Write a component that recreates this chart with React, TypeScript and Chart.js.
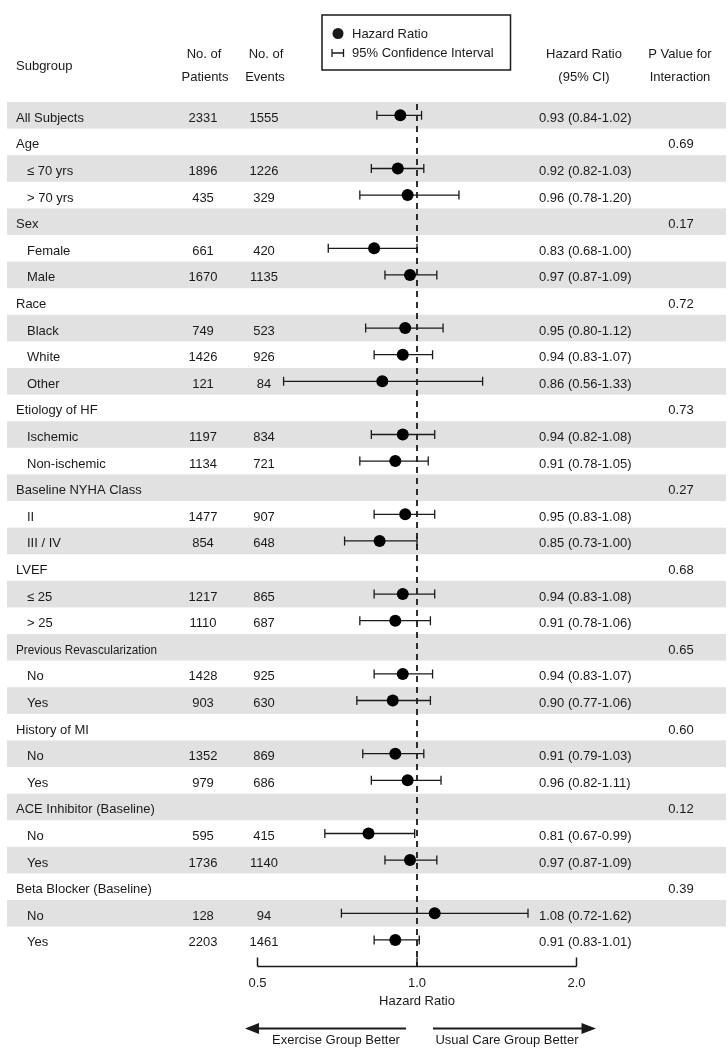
import { useEffect, useRef } from 'react';
import { Chart, registerables } from 'chart.js';

Chart.register(...registerables);

const FONT = '"Liberation Sans", Arial, Helvetica, sans-serif';
const TEXT = '#1a1a1a';
const BAND = '#e1e1e1';

// ---- Data ----
const subgroups = [
  'All Subjects', 'Age', '≤ 70 yrs', '> 70 yrs', 'Sex', 'Female', 'Male',
  'Race', 'Black', 'White', 'Other', 'Etiology of HF', 'Ischemic', 'Non-ischemic',
  'Baseline NYHA Class', 'II', 'III / IV', 'LVEF', '≤ 25', '> 25',
  'Previous Revascularization', 'No', 'Yes', 'History of MI', 'No', 'Yes',
  'ACE Inhibitor (Baseline)', 'No', 'Yes', 'Beta Blocker (Baseline)', 'No', 'Yes',
];
const isGroupHeader = [
  true, true, false, false, true, false, false,
  true, false, false, false, true, false, false,
  true, false, false, true, false, false,
  true, false, false, true, false, false,
  true, false, false, true, false, false,
];
const condensedLabels = ['Previous Revascularization'];
const patients = [
  2331, null, 1896, 435, null, 661, 1670,
  null, 749, 1426, 121, null, 1197, 1134,
  null, 1477, 854, null, 1217, 1110,
  null, 1428, 903, null, 1352, 979,
  null, 595, 1736, null, 128, 2203,
];
const events = [
  1555, null, 1226, 329, null, 420, 1135,
  null, 523, 926, 84, null, 834, 721,
  null, 907, 648, null, 865, 687,
  null, 925, 630, null, 869, 686,
  null, 415, 1140, null, 94, 1461,
];
const hazardRatio = [
  0.93, null, 0.92, 0.96, null, 0.83, 0.97,
  null, 0.95, 0.94, 0.86, null, 0.94, 0.91,
  null, 0.95, 0.85, null, 0.94, 0.91,
  null, 0.94, 0.90, null, 0.91, 0.96,
  null, 0.81, 0.97, null, 1.08, 0.91,
];
const ciLower = [
  0.84, null, 0.82, 0.78, null, 0.68, 0.87,
  null, 0.80, 0.83, 0.56, null, 0.82, 0.78,
  null, 0.83, 0.73, null, 0.83, 0.78,
  null, 0.83, 0.77, null, 0.79, 0.82,
  null, 0.67, 0.87, null, 0.72, 0.83,
];
const ciUpper = [
  1.02, null, 1.03, 1.20, null, 1.00, 1.09,
  null, 1.12, 1.07, 1.33, null, 1.08, 1.05,
  null, 1.08, 1.00, null, 1.08, 1.06,
  null, 1.07, 1.06, null, 1.03, 1.11,
  null, 0.99, 1.09, null, 1.62, 1.01,
];
const pInteraction = [
  '', '0.69', '', '', '0.17', '', '',
  '0.72', '', '', '', '0.73', '', '',
  '0.27', '', '', '0.68', '', '',
  '0.65', '', '', '0.60', '', '',
  '0.12', '', '', '0.39', '', '',
];
const axisTicks = [0.5, 1.0, 2.0];
const axisTickLabels = ['0.5', '1.0', '2.0'];

const forestPlugin = {
  id: 'forest',
  beforeDraw(chart: any) {
    const ctx = chart.ctx;
    const y = chart.scales.y;
    ctx.save();
    ctx.fillStyle = BAND;
    subgroups.forEach((_, i) => {
      if (i % 2 !== 0) return;
      const top = y.getPixelForValue(i - 0.5);
      const bot = y.getPixelForValue(i + 0.5);
      ctx.fillRect(7, top, 719, bot - top);
    });
    ctx.restore();
  },
  beforeDatasetsDraw(chart: any) {
    const ctx = chart.ctx;
    const x = chart.scales.x;
    const y = chart.scales.y;
    const area = chart.chartArea;
    ctx.save();
    // reference line at 1.0
    ctx.strokeStyle = TEXT;
    ctx.lineWidth = 1.8;
    ctx.setLineDash([6, 5]);
    ctx.beginPath();
    ctx.moveTo(x.getPixelForValue(1), area.top + 2);
    ctx.lineTo(x.getPixelForValue(1), area.bottom);
    ctx.stroke();
    ctx.setLineDash([]);
    // CI bars
    ctx.lineWidth = 1.3;
    hazardRatio.forEach((hr, i) => {
      if (hr == null) return;
      const lo = x.getPixelForValue(ciLower[i]);
      const hi = x.getPixelForValue(ciUpper[i]);
      const yy = y.getPixelForValue(i);
      ctx.beginPath();
      ctx.moveTo(lo, yy);
      ctx.lineTo(hi, yy);
      ctx.moveTo(lo, yy - 4.5);
      ctx.lineTo(lo, yy + 4.5);
      ctx.moveTo(hi, yy - 4.5);
      ctx.lineTo(hi, yy + 4.5);
      ctx.stroke();
    });
    ctx.restore();
  },
  afterDraw(chart: any) {
    const ctx = chart.ctx;
    const x = chart.scales.x;
    const y = chart.scales.y;
    const area = chart.chartArea;
    ctx.save();
    ctx.fillStyle = TEXT;
    ctx.strokeStyle = TEXT;
    ctx.font = `13px ${FONT}`;
    ctx.textBaseline = 'alphabetic';

    // headers
    ctx.textAlign = 'left';
    ctx.fillText('Subgroup', 16, 70);
    ctx.textAlign = 'center';
    ctx.fillText('No. of', 204, 58);
    ctx.fillText('Patients', 205, 81);
    ctx.fillText('No. of', 266, 58);
    ctx.fillText('Events', 265, 81);
    ctx.fillText('Hazard Ratio', 584, 58);
    ctx.fillText('(95% CI)', 584, 81);
    ctx.fillText('P Value for', 680, 58);
    ctx.fillText('Interaction', 680, 81);

    // legend box
    ctx.lineWidth = 1.5;
    ctx.strokeRect(322, 15, 188.5, 55);
    ctx.beginPath();
    ctx.arc(338, 33.5, 5.5, 0, Math.PI * 2);
    ctx.fill();
    ctx.lineWidth = 1.3;
    ctx.beginPath();
    ctx.moveTo(332, 53);
    ctx.lineTo(343.5, 53);
    ctx.moveTo(332, 49);
    ctx.lineTo(332, 57);
    ctx.moveTo(343.5, 49);
    ctx.lineTo(343.5, 57);
    ctx.stroke();
    ctx.textAlign = 'left';
    ctx.fillText('Hazard Ratio', 352, 38);
    ctx.fillText('95% Confidence Interval', 352, 57);

    // rows
    subgroups.forEach((label, i) => {
      const base = y.getPixelForValue(i) + 6.5;
      ctx.textAlign = 'left';
      const lx = isGroupHeader[i] ? 16 : 27;
      if (condensedLabels.includes(label)) {
        ctx.save();
        ctx.translate(lx, base);
        ctx.scale(0.9, 1.04);
        ctx.fillText(label, 0, 0);
        ctx.restore();
      } else {
        ctx.fillText(label, lx, base);
      }
      ctx.textAlign = 'center';
      if (patients[i] != null) ctx.fillText(String(patients[i]), 203, base);
      if (events[i] != null) ctx.fillText(String(events[i]), 264, base);
      if (hazardRatio[i] != null) {
        ctx.textAlign = 'left';
        ctx.fillText(
          `${hazardRatio[i]!.toFixed(2)} (${ciLower[i]!.toFixed(2)}-${ciUpper[i]!.toFixed(2)})`,
          539,
          base,
        );
      }
      if (pInteraction[i]) {
        ctx.textAlign = 'center';
        ctx.fillText(pInteraction[i], 681, base);
      }
    });

    // x axis
    const axY = area.bottom;
    const x0 = x.getPixelForValue(axisTicks[0]);
    const x2 = x.getPixelForValue(axisTicks[axisTicks.length - 1]);
    ctx.lineWidth = 1.5;
    ctx.beginPath();
    ctx.moveTo(x0, axY);
    ctx.lineTo(x2, axY);
    axisTicks.forEach((t) => {
      const tx = x.getPixelForValue(t);
      ctx.moveTo(tx, axY);
      ctx.lineTo(tx, axY - 9);
    });
    ctx.stroke();
    ctx.textAlign = 'center';
    axisTicks.forEach((t, k) => {
      ctx.fillText(axisTickLabels[k], x.getPixelForValue(t), axY + 20.5);
    });
    const x1 = x.getPixelForValue(1);
    ctx.fillText('Hazard Ratio', x1, axY + 38.5);

    // direction arrows
    const arY = axY + 62;
    ctx.lineWidth = 2;
    ctx.beginPath();
    ctx.moveTo(x1 - 11, arY);
    ctx.lineTo(x0, arY);
    ctx.moveTo(x1 + 16, arY);
    ctx.lineTo(x2 + 6, arY);
    ctx.stroke();
    ctx.beginPath();
    ctx.moveTo(x0 - 12.5, arY);
    ctx.lineTo(x0 + 1.5, arY - 5.5);
    ctx.lineTo(x0 + 1.5, arY + 5.5);
    ctx.closePath();
    ctx.fill();
    ctx.beginPath();
    ctx.moveTo(x2 + 19.5, arY);
    ctx.lineTo(x2 + 5, arY - 5.5);
    ctx.lineTo(x2 + 5, arY + 5.5);
    ctx.closePath();
    ctx.fill();
    ctx.fillText('Exercise Group Better', x1 - 81, arY + 15.5);
    ctx.fillText('Usual Care Group Better', x1 + 90, arY + 15.5);
    ctx.restore();
  },
};

export default function App() {
  const ref = useRef<HTMLCanvasElement | null>(null);
  useEffect(() => {
    document.body.style.margin = '0';
    if (!ref.current) return;
    const points = hazardRatio
      .map((hr, i) => (hr == null ? null : { x: hr, y: i }))
      .filter((p) => p !== null);
    const chart = new Chart(ref.current, {
      type: 'scatter',
      data: {
        datasets: [
          {
            label: 'Hazard Ratio',
            data: points as any,
            pointRadius: 6,
            pointHoverRadius: 6,
            pointBackgroundColor: '#000',
            pointBorderWidth: 0,
            borderColor: '#000',
          },
        ],
      },
      options: {
        responsive: false,
        animation: false,
        devicePixelRatio: 1,
        layout: { padding: { left: 257.5, right: 151.5, top: 102, bottom: 83.5 } },
        plugins: { legend: { display: false }, tooltip: { enabled: false } },
        events: [],
        scales: {
          x: { type: 'logarithmic', min: 0.5, max: 2, display: false },
          y: { type: 'linear', min: -0.5, max: 32, reverse: true, display: false },
        },
      },
      plugins: [forestPlugin],
    });
    return () => chart.destroy();
  }, []);
  return (
    <canvas ref={ref} width={728} height={1050} style={{ display: 'block', width: 728, height: 1050 }} />
  );
}
